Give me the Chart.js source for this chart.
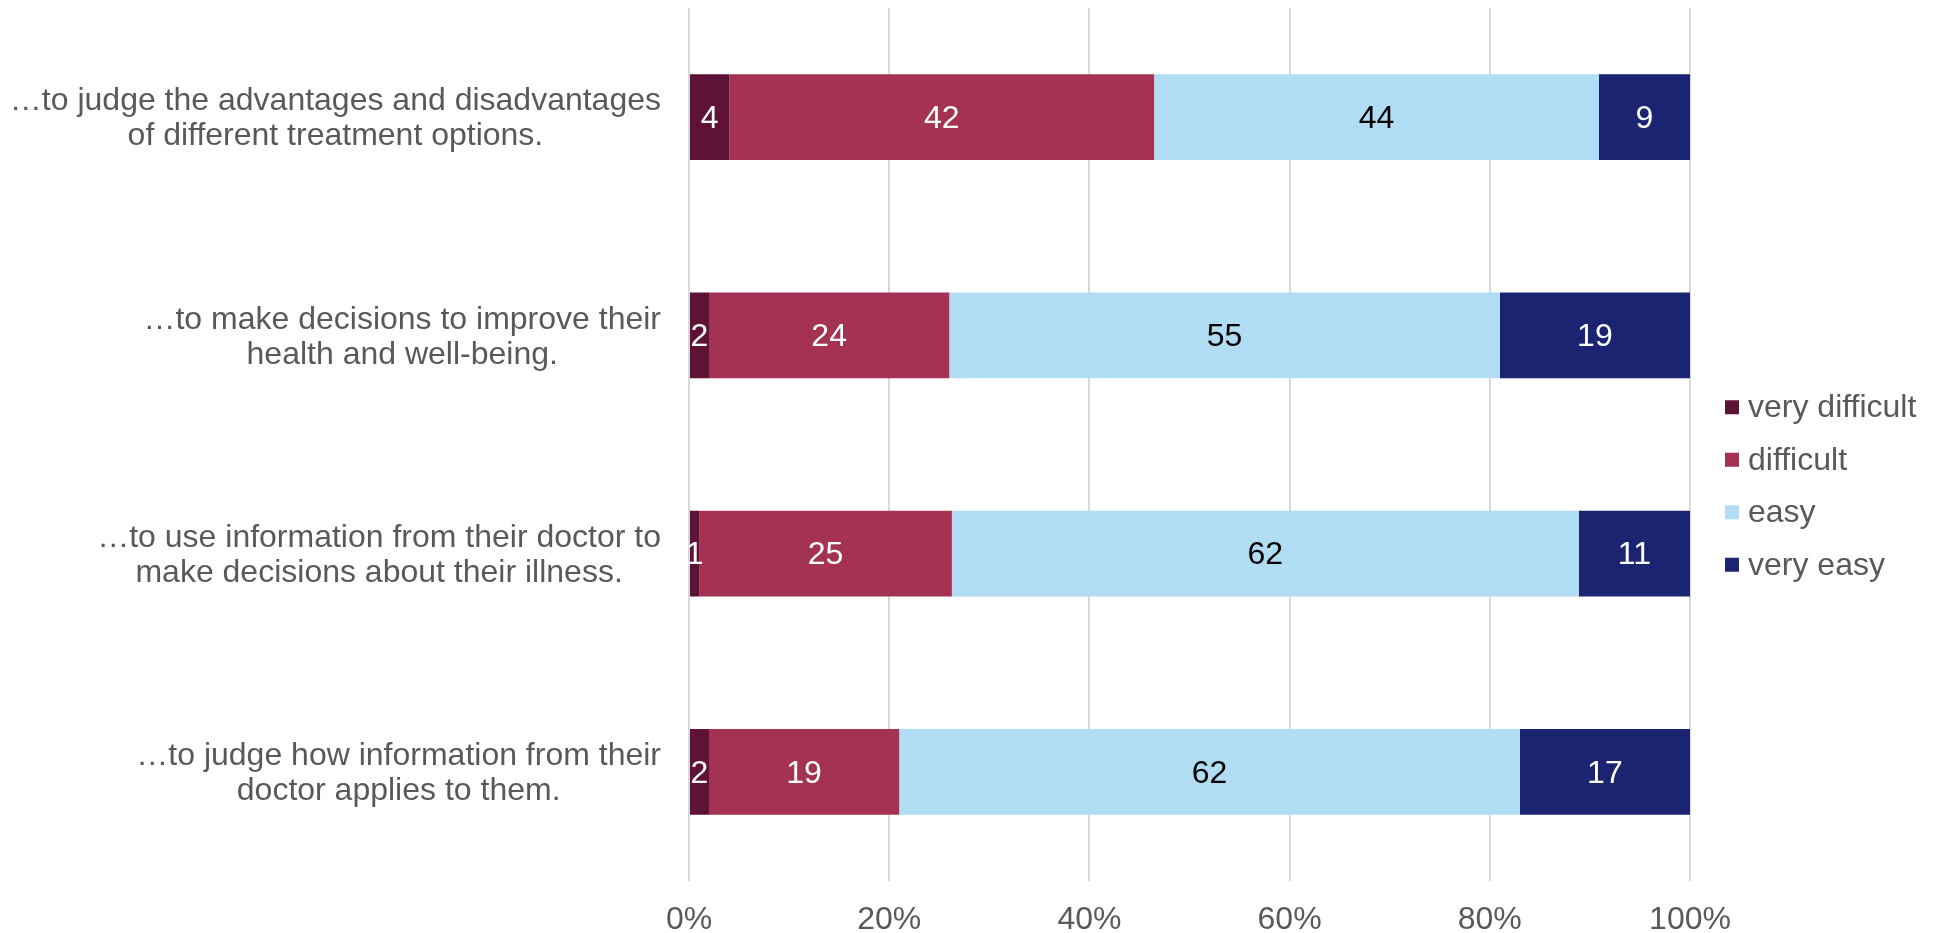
<!DOCTYPE html>
<html>
<head>
<meta charset="utf-8">
<script src="https://cdn.jsdelivr.net/npm/chart.js@4.4.1/dist/chart.umd.min.js"></script>
<style>
  html, body { margin: 0; padding: 0; background: #ffffff; overflow: hidden; }
  #wrap { width: 1947px; height: 933px; }
</style>
</head>
<body>
<div id="wrap"><canvas id="myChart"></canvas></div>
<script>
// Categories (each one is a list of label lines)
const categories = [
    ['\u2026to judge the advantages and disadvantages', 'of different treatment options.'],
    ['\u2026to make decisions to improve their', 'health and well-being.'],
    ['\u2026to use information from their doctor to', 'make decisions about their illness.'],
    ['\u2026to judge how information from their', 'doctor applies to them.']
];

// Series values as printed on the bars
const veryDifficult = [4, 2, 1, 2];
const difficult = [42, 24, 25, 19];
const easy = [44, 55, 62, 62];
const veryEasy = [9, 19, 11, 17];

const seriesNames = ['very difficult', 'difficult', 'easy', 'very easy'];
const seriesColors = ['#5E1235', '#A33253', '#B0DDF3', '#1A2470'];
const labelColors = ['#FFFFFF', '#FFFFFF', '#000000', '#FFFFFF'];

// x axis tick values
const xTickValues = [0, 20, 40, 60, 80, 100];

const FONT = '"Liberation Sans", Arial, sans-serif';
const GREY = '#595959';

const rawSeries = [veryDifficult, difficult, easy, veryEasy];

// 100% stacked: share of each row total
const rowTotals = categories.map(function(c, j) {
    return rawSeries.reduce(function(s, arr) { return s + arr[j]; }, 0);
});

const datasets = rawSeries.map(function(arr, i) {
    return {
        label: seriesNames[i],
        data: arr.map(function(v, j) { return v / rowTotals[j] * 100; }),
        raw: arr,
        backgroundColor: seriesColors[i],
        borderWidth: 0,
        categoryPercentage: 1,
        barPercentage: 0.394
    };
});

// Draw the numbers in the middle of each bar piece
const barLabels = {
    id: 'barLabels',
    afterDatasetsDraw(chart) {
        const ctx = chart.ctx;
        ctx.save();
        ctx.font = '32px ' + FONT;
        ctx.textAlign = 'center';
        ctx.textBaseline = 'middle';
        chart.data.datasets.forEach(function(ds, i) {
            const meta = chart.getDatasetMeta(i);
            meta.data.forEach(function(bar, j) {
                ctx.fillStyle = labelColors[i];
                ctx.fillText(String(ds.raw[j]), (bar.x + bar.base) / 2, bar.y + 2);
            });
        });
        ctx.restore();
    }
};

// Category labels: block right-aligned, lines centred inside the block
const categoryLabels = {
    id: 'categoryLabels',
    afterDraw(chart) {
        const ctx = chart.ctx;
        const yScale = chart.scales.y;
        const right = chart.chartArea.left - 28;
        const lineHeight = 35;
        ctx.save();
        ctx.font = '32px ' + FONT;
        ctx.fillStyle = GREY;
        ctx.textAlign = 'center';
        ctx.textBaseline = 'middle';
        categories.forEach(function(lines, i) {
            const w = Math.max.apply(null, lines.map(function(l) { return ctx.measureText(l).width; }));
            const cx = right - w / 2;
            const cy = yScale.getPixelForValue(i) + 2;
            lines.forEach(function(l, k) {
                ctx.fillText(l, cx, cy + (k - (lines.length - 1) / 2) * lineHeight);
            });
        });
        ctx.restore();
    }
};

// Legend on the right, drawn by hand so it sits where the original has it
const sideLegend = {
    id: 'sideLegend',
    afterDraw(chart) {
        const ctx = chart.ctx;
        const boxX = chart.chartArea.right + 35;
        const midY = 486;
        const step = 52.5;
        ctx.save();
        ctx.font = '32px ' + FONT;
        ctx.textAlign = 'left';
        ctx.textBaseline = 'middle';
        seriesNames.forEach(function(name, i) {
            const cy = midY + (i - (seriesNames.length - 1) / 2) * step;
            ctx.fillStyle = seriesColors[i];
            ctx.fillRect(boxX, cy - 7, 14, 14);
            ctx.fillStyle = GREY;
            ctx.fillText(name, boxX + 23, cy + 1);
        });
        ctx.restore();
    }
};

const config = {
    type: 'bar',
    data: {
        labels: categories,
        datasets: datasets
    },
    options: {
        indexAxis: 'y',
        responsive: true,
        maintainAspectRatio: false,
        animation: false,
        layout: {
            padding: { left: 689, top: 8, right: 257, bottom: 0 }
        },
        scales: {
            x: {
                stacked: true,
                min: 0,
                max: 100,
                afterBuildTicks(scale) {
                    scale.ticks = xTickValues.map(function(v) { return { value: v }; });
                },
                afterFit(scale) {
                    scale.height = 52;
                },
                ticks: {
                    padding: 23,
                    color: GREY,
                    font: { family: FONT, size: 32, lineHeight: 1 },
                    callback: function(v) { return v + '%'; }
                },
                grid: { color: '#D9D9D9', lineWidth: 2, drawTicks: false },
                border: { display: false }
            },
            y: {
                stacked: true,
                ticks: { display: false },
                grid: { display: false, drawTicks: false },
                border: { display: false }
            }
        },
        plugins: {
            legend: { display: false },
            tooltip: { enabled: false }
        }
    },
    plugins: [barLabels, categoryLabels, sideLegend]
};

const myChart = new Chart(document.getElementById('myChart'), config);
</script>
</body>
</html>
